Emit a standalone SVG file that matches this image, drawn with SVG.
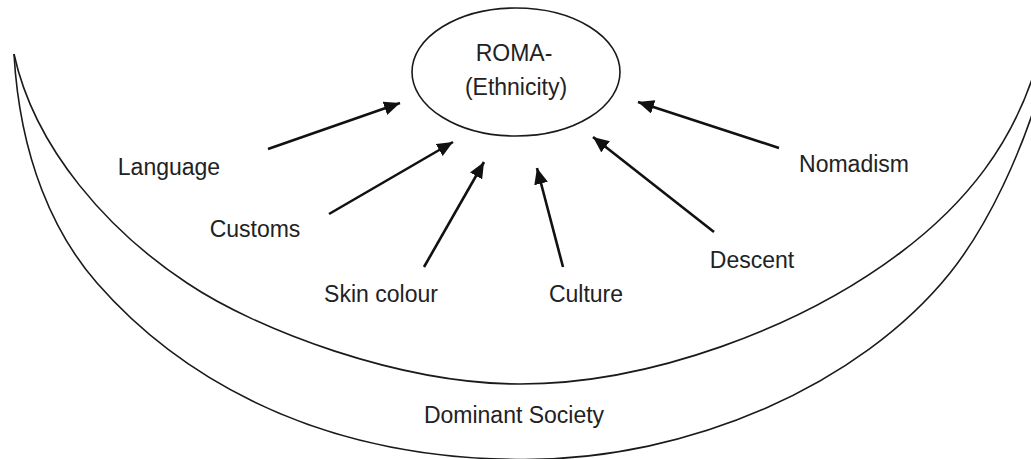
<svg xmlns="http://www.w3.org/2000/svg" width="1031" height="459" viewBox="0 0 1031 459">
<style>
.lbl{font-family:"Liberation Sans",Arial,sans-serif;font-size:23px;fill:#222;text-anchor:middle}
.crescent{fill:none;stroke:#1a1a1a;stroke-width:1.6}
.arrow{stroke:#111;stroke-width:2.6;fill:none;marker-end:url(#ah)}
</style>
<defs>
<marker id="ah" markerUnits="userSpaceOnUse" markerWidth="18" markerHeight="14" refX="16" refY="7" orient="auto">
<path d="M0,0 L16,7 L0,14 Z" fill="#111"/>
</marker>
</defs>
<rect width="1031" height="459" fill="#fff"/>
<g id="dominant-society">
<path class="crescent" d="M14,54 C35,150 110,232 187,283 C257,330 400,384 520,384 C650,384 800,328 900,253 C960,208 1018,145 1042,45"/>
<path class="crescent" d="M14,54 C20,160 55,235 97,283 C167,363 300,459.5 525,459.5 C690,459.5 860,385 950,273 C990,223 1022,150 1040,90"/>
<text class="lbl" x="514" y="423">Dominant Society</text>
</g>
<g id="roma">
<ellipse cx="516" cy="72" rx="104" ry="64" fill="none" stroke="#1a1a1a" stroke-width="1.6"/>
<text class="lbl" x="514" y="61">ROMA-</text>
<text class="lbl" x="516" y="95">(Ethnicity)</text>
</g>
<g id="language"><text class="lbl" x="169" y="175">Language</text></g>
<g id="customs"><text class="lbl" x="255" y="237">Customs</text></g>
<g id="skin-colour"><text class="lbl" x="381" y="302">Skin colour</text></g>
<g id="culture"><text class="lbl" x="586" y="302">Culture</text></g>
<g id="descent"><text class="lbl" x="752" y="268">Descent</text></g>
<g id="nomadism"><text class="lbl" x="854" y="172">Nomadism</text></g>
<g id="connectors">
<line class="arrow" x1="268" y1="149" x2="400" y2="103"/>
<line class="arrow" x1="329" y1="214" x2="453" y2="142"/>
<line class="arrow" x1="424" y1="267" x2="484" y2="162"/>
<line class="arrow" x1="563" y1="267" x2="537" y2="168"/>
<line class="arrow" x1="714" y1="232" x2="593" y2="137"/>
<line class="arrow" x1="779" y1="148" x2="638" y2="102"/>
</g>
</svg>
